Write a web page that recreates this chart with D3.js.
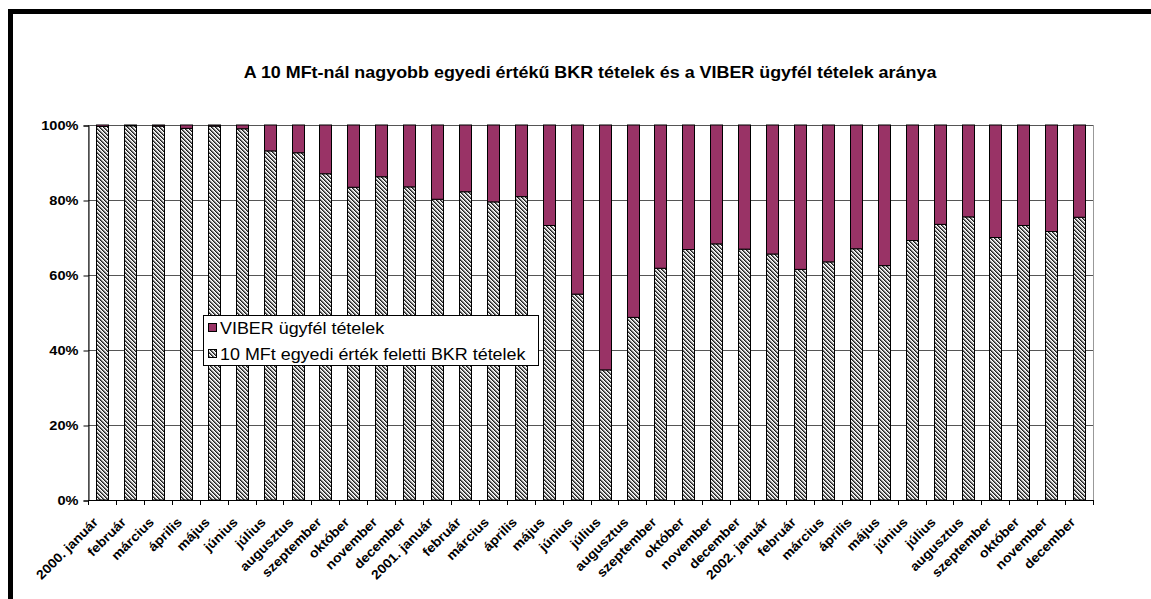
<!DOCTYPE html>
<html>
<head>
<meta charset="utf-8">
<script src="https://cdn.jsdelivr.net/npm/d3@7"></script>
<style>
  html, body { margin: 0; padding: 0; background: #fff; }
  svg { display: block; font-family: "Liberation Sans", Arial, sans-serif; }
</style>
</head>
<body>
<svg id="chart" width="1151" height="599"></svg>
<script>
const categories = [
  "2000. január","február","március","április","május","június","július","augusztus","szeptember","október","november","december",
  "2001. január","február","március","április","május","június","július","augusztus","szeptember","október","november","december",
  "2002. január","február","március","április","május","június","július","augusztus","szeptember","október","november","december"
];
const bkrValues = [99.6, 99.8, 99.7, 99.1, 99.7, 99.0, 93.1, 92.6, 87.0, 83.4, 86.2, 83.5,
                   80.2, 82.2, 79.5, 80.9, 73.2, 54.9, 34.7, 48.7, 61.8, 66.8, 68.3, 66.9,
                   65.6, 61.5, 63.5, 67.0, 62.5, 69.2, 73.5, 75.5, 70.0, 73.2, 71.6, 75.4];
const viberValues = bkrValues.map(v => 100 - v);
const yTicks = [0, 20, 40, 60, 80, 100];
const seriesNames = ["VIBER ügyfél tételek", "10 MFt egyedi érték feletti BKR tételek"];
const titleText = "A 10 MFt-nál nagyobb egyedi értékű BKR tételek és a VIBER ügyfél tételek aránya";

const svg = d3.select("#chart");
const plot = {left: 88, right: 1093, top: 125, bottom: 500};
const SX = 1.12; // horizontal text stretch

// hatch pattern
const defs = svg.append("defs");
const pat = defs.append("pattern").attr("id", "hatch").attr("patternUnits", "userSpaceOnUse")
  .attr("width", 4).attr("height", 4);
const shades = ["#202020", "#707070", "#d0d0d0", "#ffffff"];
for (let yy = 0; yy < 4; yy++) {
  for (let xx = 0; xx < 4; xx++) {
    const m = ((xx - yy) % 4 + 4) % 4;
    pat.append("rect").attr("x", xx).attr("y", yy).attr("width", 1).attr("height", 1).attr("fill", shades[m]);
  }
}

// outer frame
svg.append("rect").attr("x", 10.5).attr("y", 11.5).attr("width", 1300).attr("height", 1000)
  .attr("fill", "none").attr("stroke", "#000").attr("stroke-width", 5);

// title
svg.append("text").attr("transform", `translate(590,78) scale(${SX},1)`).attr("text-anchor", "middle")
  .attr("font-weight", "bold").attr("font-size", 16).text(titleText);

const x = d3.scaleBand().domain(d3.range(categories.length)).range([plot.left, plot.right]).padding(0);
const y = d3.scaleLinear().domain([0, 100]).range([plot.bottom, plot.top]);

// plot border
svg.append("rect").attr("x", plot.left + 0.5).attr("y", plot.top + 0.5)
  .attr("width", plot.right - plot.left).attr("height", plot.bottom - plot.top)
  .attr("fill", "none").attr("stroke", "#999");

// gridlines
svg.append("g").selectAll("line").data(yTicks.filter(t => t > 0)).join("line")
  .attr("x1", plot.left).attr("x2", plot.right)
  .attr("y1", d => Math.round(y(d)) + 0.5).attr("y2", d => Math.round(y(d)) + 0.5)
  .attr("stroke", "#555").attr("stroke-width", 1);

// y axis
const yAxis = d3.axisLeft(y).tickValues(yTicks).tickFormat(d => d + "%").tickSize(5).tickPadding(0);
const yg = svg.append("g").attr("transform", `translate(${plot.left + 0.5},0.5)`).call(yAxis);
yg.select(".domain").attr("stroke", "#000");
yg.selectAll(".tick line").attr("stroke", "#000");
yg.selectAll("text")
  .attr("x", null)
  .attr("transform", `translate(-10,0) scale(${SX},1)`)
  .attr("font-weight", "bold").attr("font-size", 13)
  .attr("font-family", "Liberation Sans, Arial, sans-serif").attr("fill", "#000");

// bars
const bw = x.bandwidth() * 0.42;
const barsG = svg.append("g");
barsG.selectAll("rect.bkr").data(bkrValues).join("rect").attr("class", "bkr")
  .attr("x", (d, i) => Math.round(x(i) + (x.bandwidth() - bw) / 2) + 0.5)
  .attr("width", Math.round(bw))
  .attr("y", d => y(d)).attr("height", d => y(0) - y(d))
  .attr("fill", "url(#hatch)").attr("stroke", "#000").attr("stroke-width", 1);
barsG.selectAll("rect.viber").data(viberValues).join("rect").attr("class", "viber")
  .attr("x", (d, i) => Math.round(x(i) + (x.bandwidth() - bw) / 2) + 0.5)
  .attr("width", Math.round(bw))
  .attr("y", (d, i) => y(bkrValues[i] + d)).attr("height", (d, i) => y(bkrValues[i]) - y(bkrValues[i] + d))
  .attr("fill", "#993366").attr("stroke", "#000").attr("stroke-width", 1);

// x axis line and ticks at category boundaries
svg.append("line").attr("x1", plot.left).attr("x2", plot.right)
  .attr("y1", plot.bottom + 0.5).attr("y2", plot.bottom + 0.5).attr("stroke", "#000");
svg.append("g").selectAll("line").data(d3.range(categories.length + 1)).join("line")
  .attr("x1", d => Math.round(plot.left + d * x.step()) + 0.5)
  .attr("x2", d => Math.round(plot.left + d * x.step()) + 0.5)
  .attr("y1", plot.bottom).attr("y2", plot.bottom + 5).attr("stroke", "#000");

// x labels
svg.append("g").selectAll("text").data(categories).join("text")
  .attr("transform", (d, i) => `translate(${x(i) + x.bandwidth() / 2 - 3},${plot.bottom + 23}) rotate(-45) scale(1.08,1)`)
  .attr("text-anchor", "end").attr("font-weight", "bold").attr("font-size", 13)
  .text(d => d);

// legend
const lg = svg.append("g");
lg.append("rect").attr("x", 203.5).attr("y", 315.5).attr("width", 335).attr("height", 50)
  .attr("fill", "#fff").attr("stroke", "#000");
const fills = ["#993366", "url(#hatch)"];
seriesNames.forEach((name, i) => {
  const yy = 323 + i * 26;
  lg.append("rect").attr("x", 208.5).attr("y", yy + 0.5).attr("width", 8).attr("height", 8)
    .attr("fill", fills[i]).attr("stroke", "#000");
  lg.append("text").attr("transform", `translate(220,${yy + 11}) scale(${SX},1)`).attr("font-size", 16).text(name);
});
</script>
</body>
</html>
